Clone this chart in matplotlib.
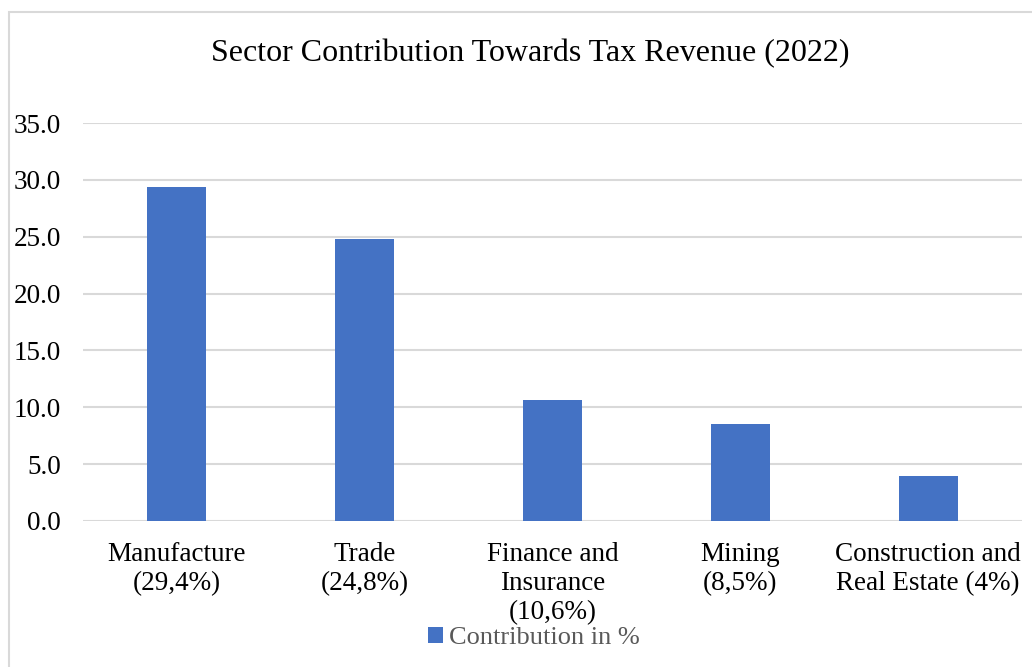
import matplotlib.pyplot as plt
from matplotlib.patches import Rectangle

sectors = ['Manufacture\n(29,4%)', 'Trade\n(24,8%)', 'Finance and\nInsurance\n(10,6%)',
           'Mining\n(8,5%)', 'Construction and\nReal Estate (4%)']
contribution = [29.4, 24.8, 10.6, 8.5, 4.0]
yticks = [0, 5, 10, 15, 20, 25, 30, 35]

plt.rcParams['font.family'] = ['Liberation Serif', 'DejaVu Serif']

W, H = 1032, 667
fig = plt.figure(figsize=(W / 100, H / 100), dpi=100)

# chart frame (light gray border, partially cut off)
fig.patches.append(Rectangle((9 / W, -0.05), 1.1, 1.05 - 12 / H,
                             transform=fig.transFigure, fill=False,
                             edgecolor='#d9d9d9', linewidth=1.5))

ax = fig.add_axes([83 / W, 1 - 521 / H, (1022 - 83) / W, (521 - 123) / H])
x = range(len(sectors))
ax.bar(x, contribution, width=0.315, color='#4472c4', label='Contribution in %', zorder=3)
ax.set_xlim(-0.5, len(sectors) - 0.5)
ax.set_ylim(0, 35)
ax.set_yticks(yticks)
ax.set_yticklabels([f'{v:.1f}' for v in yticks])
ax.set_xticks(list(x))
ax.set_xticklabels(sectors, linespacing=1.22)
ax.tick_params(axis='both', length=0, labelsize=19.5, colors='black')
ax.tick_params(axis='x', pad=15)
ax.tick_params(axis='y', pad=16)
ax.grid(axis='y', color='#d9d9d9', linewidth=1.5, zorder=0)
for s in ax.spines.values():
    s.set_visible(False)

fig.text(530 / W, 1 - 54 / H, 'Sector Contribution Towards Tax Revenue (2022)',
         ha='center', va='center', fontsize=23)

leg = fig.legend(loc='center', bbox_to_anchor=(534 / W, 1 - 638 / H), frameon=False,
                 fontsize=19, handlelength=0.55, handleheight=0.55, handletextpad=0.25)
for t in leg.get_texts():
    t.set_color('#595959')

fig.savefig('out.png', dpi=100)
